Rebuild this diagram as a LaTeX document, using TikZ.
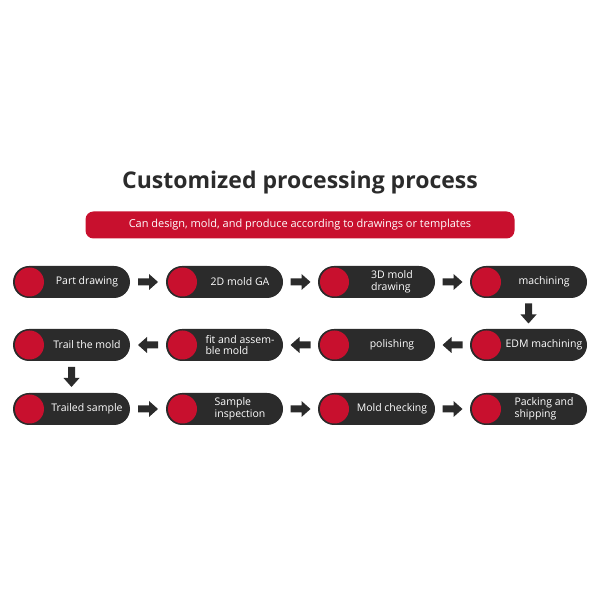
\documentclass[tikz,border=0pt]{standalone}
\usepackage{fontspec}
\setmainfont{Open Sans}
\usetikzlibrary{calc}
\definecolor{pill}{HTML}{2B2B2B}
\definecolor{myred}{HTML}{C8102E}
\begin{document}
\begin{tikzpicture}[x=1pt,y=1pt,
 pillbox/.style={fill=pill,rounded corners=16pt,minimum width=117pt,minimum height=32pt,inner sep=0pt},
 dot/.style={circle,fill=myred,minimum size=29pt,inner sep=0pt},
 lab/.style={text=white,font=\fontsize{10.5}{11.5}\selectfont,align=left,inner sep=0pt},
 blk/.style={fill=pill}]
\useasboundingbox (0,0) rectangle (600,600);
\node[font=\bfseries\fontsize{23}{28}\selectfont,text=pill] (title) at (300,417) {Customized processing process};
\node[fill=myred,rounded corners=8pt,minimum width=429pt,minimum height=27pt,text=white,font=\fontsize{11}{12}\selectfont] (ban) at (300,375) {Can design, mold, and produce according to drawings or templates};
\def\pillat#1#2#3#4{%
 \node[pillbox] (#1) at (#2+58.5,#3) {};
 \node[dot] (#1d) at (#2+16.5,#3) {};
 \node[lab] (#1t) at (#2+74,#3) {#4};}
\def\blkarrow#1#2#3{%
 \coordinate (#1) at #2;
 \begin{scope}[shift={(#1)},rotate=#3]
 \fill[blk] (-10,-3.5) -- (1,-3.5) -- (1,-8) -- (10,0) -- (1,8) -- (1,3.5) -- (-10,3.5) -- cycle;
 \end{scope}}
\pillat{a}{13}{318}{Part drawing}
\pillat{b}{166}{318}{2D mold GA}
\pillat{c}{318}{318}{3D mold\\drawing}
\pillat{d}{470}{318}{machining}
\pillat{e}{470}{255}{EDM machining}
\pillat{f}{318}{255}{polishing}
\pillat{g}{166}{255}{fit and assem-\\ble mold}
\pillat{h}{13}{255}{Trail the mold}
\pillat{i}{13}{191}{Trailed sample}
\pillat{j}{166}{191}{Sample\\inspection}
\pillat{k}{318}{191}{Mold checking}
\pillat{l}{470}{191}{Packing and\\shipping}
\blkarrow{ab}{($(a.east)!0.5!(b.west)$)}{0}
\blkarrow{bc}{($(b.east)!0.5!(c.west)$)}{0}
\blkarrow{cd}{($(c.east)!0.5!(d.west)$)}{0}
\blkarrow{de}{($(d.south)!0.5!(e.north)$)}{-90}
\blkarrow{ef}{($(e.west)!0.5!(f.east)$)}{180}
\blkarrow{fg}{($(f.west)!0.5!(g.east)$)}{180}
\blkarrow{gh}{($(g.west)!0.5!(h.east)$)}{180}
\blkarrow{hi}{($(h.south)!0.5!(i.north)$)}{-90}
\blkarrow{ij}{($(i.east)!0.5!(j.west)$)}{0}
\blkarrow{jk}{($(j.east)!0.5!(k.west)$)}{0}
\blkarrow{kl}{($(k.east)!0.5!(l.west)$)}{0}
\end{tikzpicture}
\end{document}
